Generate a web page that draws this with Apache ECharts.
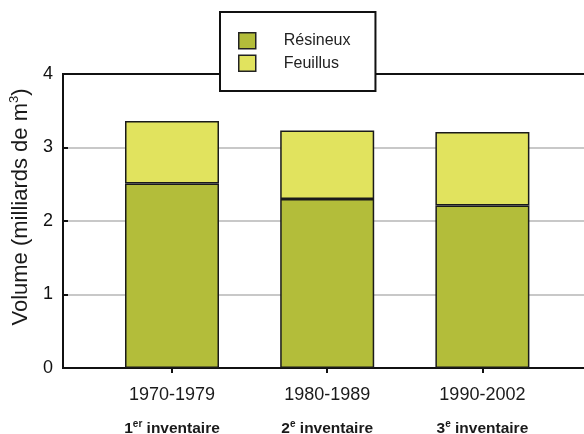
<!DOCTYPE html>
<html><head><meta charset="utf-8">
<script src="https://cdn.jsdelivr.net/npm/echarts@6/dist/echarts.min.js"></script>
<style>html,body{margin:0;padding:0;background:#fff;overflow:hidden}#c{width:584px;height:434px}</style>
</head><body><div id="c"></div>
<script>
const periods = ['1970-1979', '1980-1989', '1990-2002'];
const inventaireNum = ['1', '2', '3'];
const inventaireSup = ['er', 'e', 'e'];
const resineux = [2.51, 2.30, 2.21];
const feuillus = [0.85, 0.93, 1.00];
const seriesNames = ['Résineux', 'Feuillus'];
const yTicks = [0, 1, 2, 3, 4];

const FONT = '"Liberation Sans", Arial, sans-serif';
const chart = echarts.init(document.getElementById('c'), null, {renderer: 'canvas'});
chart.setOption({
  animation: false,
  backgroundColor: '#fff',
  textStyle: {fontFamily: FONT},
  legend: {
    data: seriesNames,
    orient: 'vertical',
    left: 220, top: 12,
    padding: [20, 25, 19, 18],
    itemWidth: 17, itemHeight: 16, itemGap: 5,
    icon: 'rect',
    backgroundColor: '#fff',
    borderColor: '#111', borderWidth: 2,
    textStyle: {fontFamily: FONT, fontSize: 16, color: '#222', padding: [0, 0, 0, 23]},
    itemStyle: {borderColor: '#222', borderWidth: 1.5},
    z: 10
  },
  grid: [
    {left: 63, top: 74, width: 640, bottom: 66, outerBoundsMode: 'none', containLabel: false,
     show: true, borderColor: '#111', borderWidth: 2, backgroundColor: 'transparent'},
    {left: 94.4, top: 74, width: 465.6, bottom: 66, outerBoundsMode: 'none', containLabel: false}
  ],
  xAxis: [
    {gridIndex: 0, type: 'value', min: 0, max: 1, show: false},
    {gridIndex: 1, type: 'category', data: periods,
     axisLine: {show: false},
     axisTick: {show: true, alignWithLabel: true, length: 5, lineStyle: {color: '#111', width: 2}},
     axisLabel: {
       margin: 12, interval: 0,
       formatter: function (v, i) {
         return '{a|' + v + '}\n{b|' + inventaireNum[i] + '}{s|' + inventaireSup[i] + '}{b| inventaire}';
       },
       rich: {
         a: {fontFamily: FONT, fontSize: 18, color: '#1a1a1a', lineHeight: 30},
         b: {fontFamily: FONT, fontSize: 15.5, fontWeight: 'bold', color: '#1a1a1a', lineHeight: 38},
         s: {fontFamily: FONT, fontSize: 10, fontWeight: 'bold', color: '#1a1a1a', padding: [0, 0, 10, 0]}
       }
     }}
  ],
  yAxis: [
    {gridIndex: 0, type: 'value', min: yTicks[0], max: yTicks[yTicks.length - 1], interval: 1,
     axisLine: {show: false},
     axisTick: {show: true, inside: true, length: 5, lineStyle: {color: '#111', width: 2}},
     axisLabel: {fontFamily: FONT, fontSize: 18, color: '#111', margin: 10},
     splitLine: {show: true, showMinLine: false, showMaxLine: false, lineStyle: {color: '#c8c8c8', width: 2}},
     name: 'Volume (milliards de m{sup|3})',
     nameLocation: 'middle', nameGap: 24, nameRotate: 90,
     nameTextStyle: {fontFamily: FONT, fontSize: 22, color: '#1a1a1a', padding: [0, 0, 0, 28],
       rich: {sup: {fontFamily: FONT, fontSize: 13, color: '#1a1a1a', padding: [0, 0, 13, 0]}}}
    },
    {gridIndex: 1, type: 'value', min: 0, max: 4, show: false}
  ],
  series: [
    {name: seriesNames[0], type: 'bar', stack: 'v', xAxisIndex: 1, yAxisIndex: 1, barWidth: 94,
     data: resineux, itemStyle: {color: '#b3bd3a', borderColor: '#1a1a1a', borderWidth: 1.5}},
    {name: seriesNames[1], type: 'bar', stack: 'v', xAxisIndex: 1, yAxisIndex: 1, barWidth: 94,
     data: feuillus, itemStyle: {color: '#e1e35e', borderColor: '#1a1a1a', borderWidth: 1.5}}
  ]
});
</script></body></html>
